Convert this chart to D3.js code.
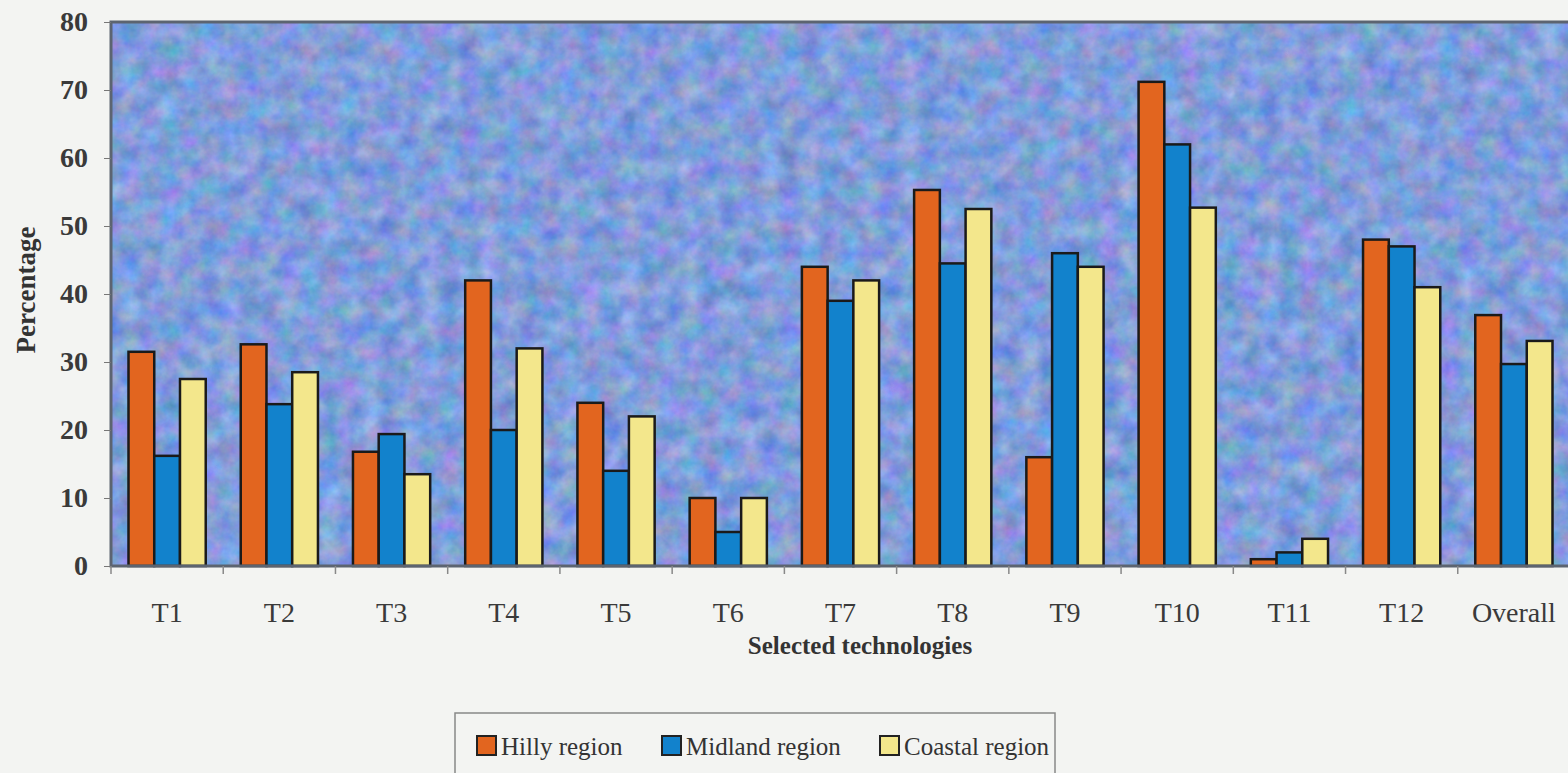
<!DOCTYPE html>
<html>
<head>
<meta charset="utf-8">
<script src="https://cdn.jsdelivr.net/npm/d3@7"></script>
<style>
  body { margin: 0; background: #f3f4f2; }
  svg { display: block; }
  text { font-family: "Liberation Serif", "Times New Roman", serif; fill: #333; }
</style>
</head>
<body>
<svg id="chart" width="1568" height="773"></svg>
<script>
// DATA
// ========================================================================
var categories = ["T1", "T2", "T3", "T4", "T5", "T6", "T7", "T8", "T9", "T10", "T11", "T12", "Overall"];
var series_names = ["Hilly region", "Midland region", "Coastal region"];
var hilly   = [31.5, 32.6, 16.8, 42, 24, 10, 44, 55.3, 16, 71.2, 1, 48, 36.9];
var midland = [16.2, 23.8, 19.4, 20, 14, 5, 39, 44.5, 46, 62, 2, 47, 29.7];
var coastal = [27.5, 28.5, 13.5, 32, 22, 10, 42, 52.5, 44, 52.7, 4, 41, 33.1];
var y_ticks = [0, 10, 20, 30, 40, 50, 60, 70, 80];
var colors = ["#e2651f", "#1282cc", "#f3e78c"];
// ========================================================================

var svg = d3.select("#chart");
var margin = {left: 111, top: 22, right: 1570, bottom: 566};

var x = d3.scaleBand().domain(categories).range([margin.left, margin.right]).paddingInner(0).paddingOuter(0);
var y = d3.scaleLinear().domain([0, 80]).range([margin.bottom, margin.top]);
var xs = d3.scaleBand().domain(series_names).range([0, x.bandwidth()]).paddingInner(0).paddingOuter(0.68);

// Textured plot background
var defs = svg.append("defs");
var filt = defs.append("filter").attr("id", "mottle")
    .attr("x", 0).attr("y", 0).attr("width", 1).attr("height", 1)
    .attr("color-interpolation-filters", "sRGB");
filt.append("feTurbulence").attr("type", "fractalNoise").attr("baseFrequency", "0.05").attr("numOctaves", 4).attr("seed", 11).attr("result", "noise");
filt.append("feColorMatrix").attr("in", "noise").attr("type", "matrix")
    .attr("values", "0.45 0 0 0 0.28  0.05 0.32 0 0 0.43  0 0 0.3 0 0.71  0 0 0 0 1");

svg.append("rect")
    .attr("x", margin.left).attr("y", margin.top)
    .attr("width", margin.right - margin.left).attr("height", margin.bottom - margin.top)
    .style("fill", "#7f9edf");
svg.append("rect")
    .attr("x", margin.left).attr("y", margin.top)
    .attr("width", margin.right - margin.left).attr("height", margin.bottom - margin.top)
    .attr("filter", "url(#mottle)");

// Bars
var rows = categories.map(function (c, i) { return {cat: c, vals: [hilly[i], midland[i], coastal[i]]}; });
var groups = svg.append("g").selectAll("g").data(rows).enter()
    .append("g").attr("transform", function (d) { return "translate(" + x(d.cat) + ",0)"; });
groups.selectAll("rect").data(function (d) { return d.vals.map(function (v, j) { return {name: series_names[j], v: v, j: j}; }); })
  .enter().append("rect")
    .attr("x", function (d) { return xs(d.name); })
    .attr("y", function (d) { return y(d.v); })
    .attr("width", xs.bandwidth())
    .attr("height", function (d) { return y(0) - y(d.v); })
    .style("fill", function (d) { return colors[d.j]; })
    .style("stroke", "#1a1a1a").style("stroke-width", 2.5);

// Frame
svg.append("rect")
    .attr("x", margin.left).attr("y", margin.top)
    .attr("width", margin.right - margin.left).attr("height", margin.bottom - margin.top)
    .style("fill", "none").style("stroke", "#5c6470").style("stroke-width", 3);

// Y axis
var yAxis = svg.append("g").attr("transform", "translate(" + margin.left + ",0)")
    .call(d3.axisLeft(y).tickValues(y_ticks).tickSize(7).tickPadding(16));
yAxis.select(".domain").remove();
yAxis.selectAll("line").style("stroke", "#777");
yAxis.selectAll("text").style("font-size", "28px").style("font-weight", "bold").style("fill", "#3a3a3a");

// X axis
var xAxis = svg.append("g").attr("transform", "translate(0," + margin.bottom + ")")
    .call(d3.axisBottom(x).tickSize(0).tickPadding(0));
xAxis.select(".domain").remove();
xAxis.selectAll("text").attr("dy", null).attr("y", 56)
    .style("font-size", "28px").style("fill", "#3a3a3a");
svg.append("g").selectAll("line").data(categories).enter().append("line")
    .attr("x1", function (d) { return x(d); }).attr("x2", function (d) { return x(d); })
    .attr("y1", margin.bottom).attr("y2", margin.bottom + 8)
    .style("stroke", "#888").style("stroke-width", 1.5);

// Axis titles
svg.append("text").attr("x", 860).attr("y", 654).attr("text-anchor", "middle")
    .style("font-size", "25px").style("font-weight", "bold").text("Selected technologies");
svg.append("text").attr("transform", "translate(35,290) rotate(-90)").attr("text-anchor", "middle")
    .style("font-size", "27px").style("font-weight", "bold").text("Percentage");

// Legend
var legend = svg.append("g");
legend.append("rect").attr("x", 455).attr("y", 713).attr("width", 600).attr("height", 72)
    .style("fill", "#f3f4f2").style("stroke", "#888").style("stroke-width", 1.5);
var legend_x = [477, 662, 880];
var items = legend.selectAll("g").data(series_names).enter().append("g")
    .attr("transform", function (d, i) { return "translate(" + legend_x[i] + ",736)"; });
items.append("rect").attr("width", 19).attr("height", 19)
    .style("fill", function (d, i) { return colors[i]; }).style("stroke", "#222").style("stroke-width", 2);
items.append("text").attr("x", 24).attr("y", 19).style("font-size", "25px").style("fill", "#333")
    .text(function (d) { return d; });
</script>
</body>
</html>
